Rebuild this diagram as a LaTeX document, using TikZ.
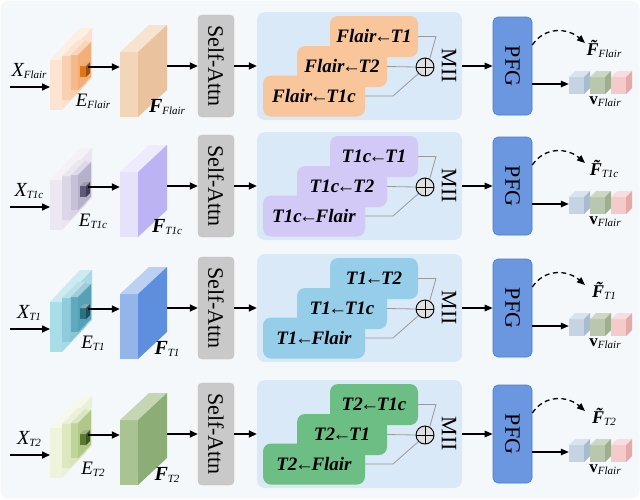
\documentclass[tikz,border=0pt]{standalone}
\usepackage{fontspec}
\setmainfont{Liberation Serif}
\usetikzlibrary{arrows.meta}
\definecolor{bgc}{HTML}{F4F8FA}
\definecolor{saGray}{HTML}{C9C9C9}
\definecolor{miiBlue}{HTML}{DAE9F7}
\definecolor{pfgFill}{HTML}{6B96E0}
\definecolor{pfgDraw}{HTML}{4A7AD2}
\definecolor{cAf}{HTML}{C6D3E2}\definecolor{cAs}{HTML}{A9BBD1}\definecolor{cAt}{HTML}{D9E3EE}
\definecolor{cBf}{HTML}{B9C7AE}\definecolor{cBs}{HTML}{9CAF8E}\definecolor{cBt}{HTML}{CDD8C4}
\definecolor{cCf}{HTML}{F5CACA}\definecolor{cCs}{HTML}{E6A9A9}\definecolor{cCt}{HTML}{F9DDDD}
\newcommand\slab[9]{%
 \fill[#7] (#1,#2) rectangle ++(#4,#3);
 \fill[#9] (#1,#2) -- ++(#5,-#6) -- ++(#4,0) -- ++(-#5,#6) -- cycle;
 \fill[#8] (#1,#2) ++(#4,0) -- ++(#5,-#6) -- ++(0,#3) -- ++(-#5,#6) -- cycle;}
\newcommand\sbs[1]{\raisebox{-0.45ex}{\fontsize{11}{11}\selectfont\itshape #1}}
\newcommand\la{\kern-2.5pt←\kern-2.5pt}
\tikzset{
 arr/.style={line width=1.6pt,-{Triangle[length=8pt,width=7pt]}},
 arrm/.style={line width=1.3pt,-{Triangle[length=8pt,width=6.5pt]}},
 darr/.style={line width=1.3pt,dash pattern=on 5pt off 3.5pt,-{Triangle[length=8pt,width=6.5pt]}},
 gline/.style={draw=black!40,line width=0.8pt},
 lab/.style={inner sep=0pt},
 sabox/.style={rectangle,rounded corners=4pt,fill=saGray,draw=black!25,line width=0.4pt,
   minimum width=36pt,minimum height=102pt,inner sep=0pt,font=\fontsize{22}{22}\selectfont},
 miibox/.style={rectangle,rounded corners=8pt,fill=miiBlue,minimum width=205pt,minimum height=108pt,inner sep=0pt},
 subbox/.style={rectangle,rounded corners=8pt,fill=boxC,minimum height=41pt,inner sep=2pt,
   font=\fontsize{19}{19}\selectfont\bfseries\itshape},
 opnode/.style={circle,draw=black,line width=0.9pt,fill=black!12,minimum size=18pt,inner sep=0pt},
 pfgbox/.style={rectangle,rounded corners=5pt,fill=pfgFill,draw=pfgDraw,line width=0.6pt,
   minimum width=39pt,minimum height=98pt,inner sep=0pt,font=\fontsize{22}{22}\selectfont},
}
\newcommand\rowdraw[6]{%
\begin{scope}[shift={(0,#1)}]
 \slab{50}{60}{50}{12}{30}{32}{encA}{encA!85!encB}{encA!60!white}
 \slab{62}{56}{44}{8}{16}{16}{encB}{encB!85!encC}{encB!60!white}
 \slab{71}{55}{35}{7}{13}{13}{encC}{encC!85!encD}{encC!60!white}
 \slab{80}{66}{11}{6}{4}{4}{encD}{encD!70!black}{encD!60!white}
 \coordinate (xin#2) at (10,87);
 \coordinate (ein#2) at (50,87);
 \coordinate (eout#2) at (88,67);
 \draw[arr] (xin#2) -- (ein#2);
 \node[lab] (xl#2) at (29,71) {{\fontsize{20}{20}\selectfont\itshape X}\sbs{#3}};
 \node[lab] (el#2) at (93,101) {{\fontsize{19}{19}\selectfont\itshape E}\sbs{#3}};
 \slab{120}{52}{65}{18}{29}{27}{fFront}{fSide}{fTop}
 \node[inner sep=0pt,minimum width=18pt,minimum height=65pt] (ff#2) at (129,84.5) {};
 \coordinate (fout#2) at (167,66);
 \draw[arr] (eout#2) -- (eout#2 -| ff#2.west);
 \node[lab] (fl#2) at (167,107) {{\fontsize{20}{20}\selectfont\bfseries\itshape F}\sbs{#3}};
 \node[sabox] (sa#2) at (216,66) {\rotatebox{-90}{Self-Attn}};
 \draw[arr] (fout#2) -- (fout#2 -| sa#2.west);
 \node[miibox] (mii#2) at (359.5,66) {};
 \draw[arr] (sa#2.east) -- (mii#2.west);
 \node[subbox,minimum width=88pt] (b1#2) at (374,36.5) {#4};
 \node[subbox,minimum width=90pt] (b2#2) at (342,66.5) {#5};
 \node[subbox,minimum width=102pt] (b3#2) at (314,96) {#6};
 \node[opnode] (op#2) at (425,67) {};
 \draw[line width=0.9pt] (op#2.north) -- (op#2.south) (op#2.west) -- (op#2.east);
 \coordinate (k1#2) at (436,36.5);
 \coordinate (k2#2) at (393,96);
 \draw[gline] (b1#2.east) -- (k1#2) -- (op#2.60);
 \draw[gline] (b2#2.east) -- (op#2.west);
 \draw[gline] (b3#2.east) -- (k2#2) -- (op#2.south west);
 \node[lab,font=\fontsize{22}{22}\selectfont] (ml#2) at (449,66) {\rotatebox{-90}{MII}};
 \node[pfgbox] (pfg#2) at (512.5,66) {\rotatebox{-90}{PFG}};
 \draw[arrm] (mii#2.east) -- (pfg#2.west);
 \coordinate (dt#2) at (585,43);
 \draw[darr] ([yshift=21pt]pfg#2.east) .. controls (545,26) and (568,28) .. (dt#2);
 \node[lab] (ftl#2) at (604,49) {{\fontsize{18}{18}\selectfont\bfseries\itshape \~{F}}\sbs{#3}};
 \slab{569}{77}{17}{15}{6}{6}{cAf}{cAs}{cAt}
 \slab{590}{77}{17}{15}{6}{6}{cBf}{cBs}{cBt}
 \slab{611}{77}{17}{15}{6}{6}{cCf}{cCs}{cCt}
 \node[inner sep=0pt,minimum width=15pt,minimum height=17pt] (cb#2) at (576.5,85.5) {};
 \draw[arrm] ([yshift=-18pt]pfg#2.east) -- ([yshift=-18pt]pfg#2.east -| cb#2.west);
 \node[lab] (vl#2) at (605,102) {{\fontsize{17}{17}\selectfont\bfseries v}\sbs{Flair}};
\end{scope}}
\begin{document}
\begin{tikzpicture}[x=1pt,y=-1pt]
\useasboundingbox (0,0) rectangle (640,499);
\fill[bgc,rounded corners=8pt] (0.5,0.5) rectangle (639.5,498.5);
% row 1 orange
\definecolor{encA}{HTML}{FCE4D2}\definecolor{encB}{HTML}{F9D0B0}\definecolor{encC}{HTML}{F5B98A}\definecolor{encD}{HTML}{E0761A}
\definecolor{fFront}{HTML}{F3D6BA}\definecolor{fSide}{HTML}{E8C39E}\definecolor{fTop}{HTML}{F7E3D0}
\definecolor{boxC}{HTML}{F9C59B}
\rowdraw{0}{a}{Flair}{Flair\la T1}{Flair\la T2}{Flair\la T1c}
% row 2 lavender
\definecolor{encA}{HTML}{ECE8F2}\definecolor{encB}{HTML}{DCD7E8}\definecolor{encC}{HTML}{C6C0D8}\definecolor{encD}{HTML}{5E5A78}
\definecolor{fFront}{HTML}{E6E2FB}\definecolor{fSide}{HTML}{BCB3F4}\definecolor{fTop}{HTML}{EEEBFC}
\definecolor{boxC}{HTML}{D2C9F6}
\rowdraw{120}{b}{T1c}{T1c\la T1}{T1c\la T2}{T1c\la Flair}
% row 3 blue
\definecolor{encA}{HTML}{A9DDE8}\definecolor{encB}{HTML}{8ECBDB}\definecolor{encC}{HTML}{5FAABF}\definecolor{encD}{HTML}{2C7182}
\definecolor{fFront}{HTML}{93B5EA}\definecolor{fSide}{HTML}{5E8FDE}\definecolor{fTop}{HTML}{BCD0F2}
\definecolor{boxC}{HTML}{96CDE9}
\rowdraw{242}{c}{T1}{T1\la T2}{T1\la T1c}{T1\la Flair}
% row 4 green
\definecolor{encA}{HTML}{EEF3DC}\definecolor{encB}{HTML}{DDE8C0}\definecolor{encC}{HTML}{C0D59A}\definecolor{encD}{HTML}{5E7A2E}
\definecolor{fFront}{HTML}{A9C393}\definecolor{fSide}{HTML}{8CAD75}\definecolor{fTop}{HTML}{C4D6B4}
\definecolor{boxC}{HTML}{6DBE84}
\rowdraw{368}{d}{T2}{T2\la T1c}{T2\la T1}{T2\la Flair}
\end{tikzpicture}
\end{document}
